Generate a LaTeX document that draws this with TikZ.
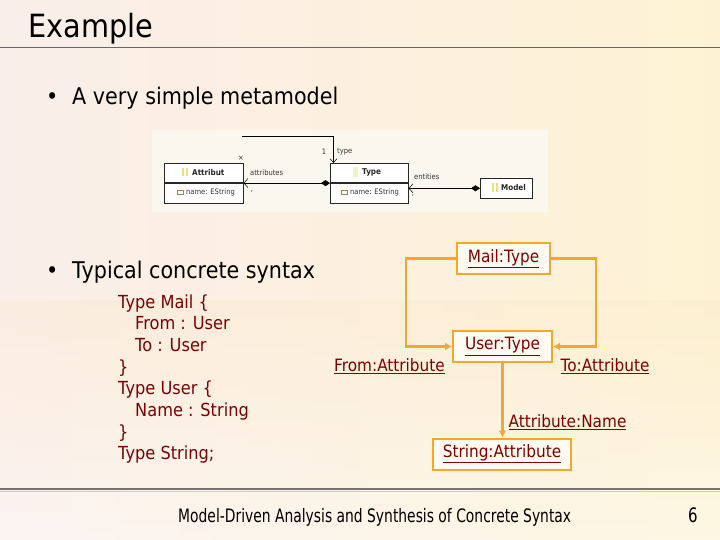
\documentclass[tikz,border=0pt]{standalone}
\usepackage{fontspec}
\setmainfont{DejaVu Sans}[FakeStretch=0.9]
\newfontfamily\footfont{DejaVu Sans}[FakeStretch=0.75]
\usetikzlibrary{arrows.meta}
\definecolor{dred}{RGB}{128,0,0}
\definecolor{codered}{RGB}{118,4,4}
\definecolor{org}{RGB}{242,168,48}
\definecolor{umlbg}{RGB}{250,248,238}
\definecolor{icony}{RGB}{236,222,120}
\definecolor{iconp}{RGB}{244,240,200}
\definecolor{iconol}{RGB}{150,140,60}
\definecolor{bgl}{RGB}{250,238,234}
\definecolor{bgm}{RGB}{252,233,203}
\definecolor{bgr}{RGB}{253,243,212}
\definecolor{objfill}{RGB}{255,251,240}
\begin{document}
\begin{tikzpicture}[x=1pt,y=-1pt,
  fs/.style={font=\fontsize{#1}{#1}\selectfont},
  txt/.style={anchor=base west, inner sep=0pt},
  codeline/.style={txt, text=codered, fs=18},
  obj/.style={draw=org, line width=2pt, fill=objfill, text=dred, inner sep=0pt,
    minimum height=31pt, fs=17},
  rolelbl/.style={inner sep=0pt, text=dred, fs=17},
  link/.style={draw=org, line width=2.5pt, -{Latex[length=7pt,width=8pt]}},
  umlbox/.style={draw=black!85, line width=0.6pt, fill=white, inner sep=0pt},
  umltxt/.style={inner sep=0pt, text=black!80, fs=7.5},
  umlbold/.style={inner sep=0pt, text=black!85, font=\fontsize{8}{8}\selectfont\bfseries},
  comp/.style={draw=black, line width=0.7pt,
    {Diamond[length=9pt,width=6pt,fill=black]}-{Straight Barb[length=4pt,width=9pt,line width=0.5pt]}},
  ref/.style={draw=black, line width=0.7pt, -{Straight Barb[length=4pt,width=7pt,line width=0.5pt]}}
]
\useasboundingbox (0,0) rectangle (720,540);
% background
\shade[left color=bgl, middle color=bgm, right color=bgr] (0,0) rectangle (720,540);
\shade[top color=bgm, bottom color=white, opacity=0.35] (0,300) rectangle (720,540);

% title
\node[txt, fs=32] (title) at (28,38) {Example};
\draw[black!60, line width=0.8pt] (0,47.5) -- (720,47.5);

% bullets
\node[txt, fs=23] (dot1) at (46,105) {•};
\node[txt, fs=23] (b1) at (72,105) {A very simple metamodel};
\node[txt, fs=23] (dot2) at (46,278) {•};
\node[txt, fs=23] (b2) at (72,278) {Typical concrete syntax};

% UML metamodel panel
\fill[umlbg] (152,130) rectangle (548,212);
\node[umlbox, minimum width=79pt, minimum height=19.5pt, anchor=north west] (attrh) at (164,163) {};
\node[umlbox, minimum width=79pt, minimum height=20pt, anchor=north west] (attrr) at (attrh.south west) {};
\node[umlbox, minimum width=78pt, minimum height=19.5pt, anchor=north west] (typeh) at (330,163) {};
\node[umlbox, minimum width=78pt, minimum height=20pt, anchor=north west] (typer) at (typeh.south west) {};
\node[umlbox, minimum width=52pt, minimum height=20pt, anchor=north west] (model) at (480,178) {};

% icons
\fill[icony] (182,168) rectangle (183.6,176);
\fill[icony] (186,168) rectangle (187.6,176);
\draw[iconol, line width=0.5pt] (177,190) rectangle (183,194);
\fill[iconp] (353,167) rectangle (358,177);
\draw[iconol, line width=0.5pt] (341,190) rectangle (347,194);
\fill[icony] (492,183) rectangle (493.6,192);
\fill[icony] (496,183) rectangle (497.6,192);

\node[umlbold, anchor=west] (attrt) at (192,172.5) {Attribut};
\node[umltxt, anchor=west] (attrn) at (186,192) {name: EString};
\node[umlbold, anchor=west] (typet) at (362,172.5) {Type};
\node[umltxt, anchor=west] (typen) at (350,192) {name: EString};
\node[umlbold, anchor=west] (modelt) at (501,188) {Model};

% UML connectors
\draw[comp] (typeh.south west) -- (attrh.south east);
\draw[comp] (model.west) -- (model.west -| typeh.east);
\coordinate (tstart) at (242,136);
\coordinate (tcorner) at (333.5,136);
\draw[ref] (tstart) -- (tcorner) -- (tcorner |- typeh.north);

\node[umltxt, anchor=west] (lattr) at (250,173) {attributes};
\node[umltxt, anchor=west] (lent) at (414,177) {entities};
\node[umltxt] (lone) at (324,152) {1};
\node[umltxt, anchor=west] (ltype) at (337,152) {type};
\node[umltxt] (mstar) at (241,158) {×};
\node[umltxt] (m1) at (252,191) {,};
\node[umltxt] (m2) at (413,195) {,};

% concrete syntax code
\node[codeline] (c1) at (118,308) {Type Mail \{};
\node[codeline] (c2) at (135,329.7) {From : User};
\node[codeline] (c3) at (135,351.4) {To : User};
\node[codeline] (c4) at (118,373.1) {\}};
\node[codeline] (c5) at (118,394.8) {Type User \{};
\node[codeline] (c6) at (135,416.5) {Name : String};
\node[codeline] (c7) at (118,438.2) {\}};
\node[codeline] (c8) at (118,459.9) {Type String;};

% object diagram
\node[obj, minimum width=93pt] (mail) at (503.5,258.5) {\underline{Mail:Type}};
\node[obj, minimum width=99pt] (user) at (502.5,346.5) {\underline{User:Type}};
\node[obj, minimum width=138pt] (string) at (502,454) {\underline{String:Attribute}};
\coordinate (lft) at (406,258.5);
\coordinate (rgt) at (596,258.5);
\draw[link] (mail.west) -- (lft) |- (user.west);
\draw[link] (mail.east) -- (rgt) |- (user.east);
\draw[link] (user.south) -- (user.south |- string.north);
\node[rolelbl] (from) at (389.5,366) {\underline{From:Attribute}};
\node[rolelbl] (to) at (605,366) {\underline{To:Attribute}};
\node[rolelbl] (aname) at (567.5,422) {\underline{Attribute:Name}};

% footer
\draw[black!55, line width=2pt] (0,489) -- (720,489);
\draw[black!20, line width=1.5pt] (0,491.5) -- (720,491.5);
\node[txt, font=\footfont\fontsize{18.5}{18.5}\selectfont] (foot) at (178,522) {Model-Driven Analysis and Synthesis of Concrete Syntax};
\node[txt, font=\footfont\fontsize{20}{20}\selectfont] (pnum) at (688,522) {6};
\end{tikzpicture}
\end{document}
